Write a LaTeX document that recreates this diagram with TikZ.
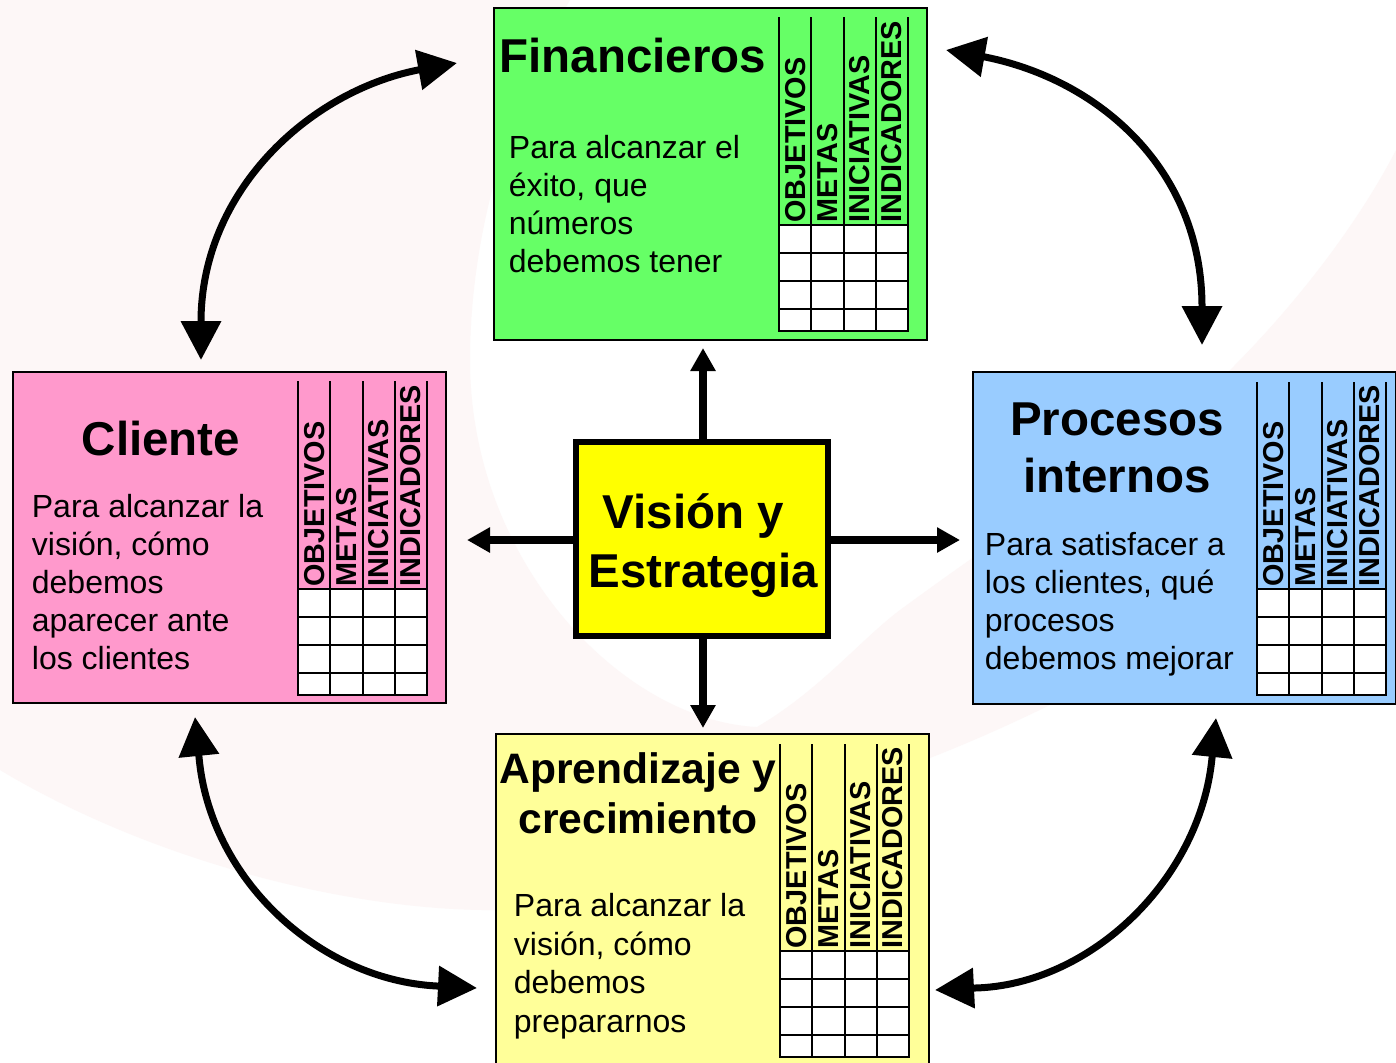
\documentclass[tikz,border=0pt]{standalone}
\usepackage{fontspec}
\setmainfont{Liberation Sans}
\usetikzlibrary{arrows.meta}
\definecolor{wm}{RGB}{253,247,247}
\definecolor{fingreen}{RGB}{102,255,102}
\definecolor{clipink}{RGB}{255,153,204}
\definecolor{problue}{RGB}{153,204,255}
\definecolor{aprylw}{RGB}{255,255,153}
\definecolor{visylw}{RGB}{255,255,0}
\tikzset{
  box/.style={draw=black, line width=1pt, anchor=north west, inner sep=0pt},
  ttl/.style={font=\fontsize{23.75}{28}\selectfont\bfseries, inner sep=0pt, anchor=base},
  ttlsmall/.style={font=\fontsize{21.3}{25}\selectfont\bfseries, inner sep=0pt, anchor=base},
  bodytxt/.style={font=\fontsize{16}{19}\selectfont, inner sep=0pt, anchor=base west},
  hdr/.style={font=\fontsize{14.4}{17}\selectfont\bfseries, rotate=90, anchor=west, inner sep=0.6pt},
  gridln/.style={line width=1pt, line cap=rect},
  sarr/.style={line width=3.6pt, -{Triangle[length=11.5pt,width=12pt]}},
  carr/.style={line width=3.5pt, {Triangle[length=19.5pt,width=19.5pt]}-{Triangle[length=19.5pt,width=19.5pt]}},
}
\newcommand\bsctab[4]{% x0, ytop, yheaderbottom, prefix
  \fill[white] (#1,#3) rectangle ({#1+129},{#3+106});
  \foreach \i in {0,1,2,3,4} \draw[gridln] ({#1+32.25*\i},#2) -- ({#1+32.25*\i},{#3+106});
  \foreach \j in {0,28,56,84,106} \draw[gridln] (#1,{#3+\j}) -- ({#1+129},{#3+\j});
  \node[hdr] (#4obj) at ({#1+16.1},{#3-1}) {OBJETIVOS};
  \node[hdr] (#4met) at ({#1+48.4},{#3-1}) {METAS};
  \node[hdr] (#4ini) at ({#1+80.6},{#3-1}) {INICIATIVAS};
  \node[hdr] (#4ind) at ({#1+112.9},{#3-1}) {INDICADORES};
}
\begin{document}
\begin{tikzpicture}[x=0.5pt,y=-0.5pt]
\useasboundingbox (0,0) rectangle (1396,1062);
\fill[white] (0,0) rectangle (1396,1062);
% faint background watermark
\fill[wm] (0,0) -- (570,0) .. controls (500,120) and (470,250) .. (470,360)
  .. controls (470,560) and (620,720) .. (757,727)
  .. controls (820,690) and (860,640) .. (900,610)
  .. controls (1050,500) and (1180,420) .. (1230,370)
  .. controls (1300,300) and (1360,220) .. (1396,150)
  -- (1396,430) .. controls (1250,560) and (1100,680) .. (1060,700)
  .. controls (1000,730) and (930,760) .. (877,777)
  .. controls (800,820) and (650,905) .. (500,910)
  .. controls (350,912) and (150,860) .. (0,770) -- cycle;

% boxes
\node[box, fill=fingreen, minimum width=216.5pt, minimum height=166pt] (fin) at (493,7) {};
\node[box, fill=clipink, minimum width=216.5pt, minimum height=165.5pt] (cli) at (12,371) {};
\node[box, fill=problue, minimum width=211.5pt, minimum height=166pt] (pro) at (972,371) {};
\node[box, fill=aprylw, minimum width=216.5pt, minimum height=175pt] (apr) at (495,733) {};
\node[draw=black, line width=3pt, fill=visylw, minimum width=126pt, minimum height=97pt, inner sep=0pt] (vis) at (702,539) {};

% tables
\bsctab{779}{18}{225}{f}
\bsctab{298}{382}{589}{c}
\bsctab{1257}{383}{589}{p}
\bsctab{780}{745}{951}{a}

% Financieros
\node[ttl, anchor=base west] (finT) at (499,72) {Financieros};
\node[bodytxt] (finA) at (508.5,158) {Para alcanzar el};
\node[bodytxt] (finB) at (508.5,196) {éxito, que};
\node[bodytxt] (finC) at (508.5,234) {números};
\node[bodytxt] (finD) at (508.5,272) {debemos tener};

% Cliente
\node[ttl] (cliT) at (161,455) {Cliente};
\node[bodytxt] (cliA) at (31.5,517) {Para alcanzar la};
\node[bodytxt] (cliB) at (31.5,555) {visión, cómo};
\node[bodytxt] (cliC) at (31.5,593) {debemos};
\node[bodytxt] (cliD) at (31.5,631) {aparecer ante};
\node[bodytxt] (cliE) at (31.5,669) {los clientes};

% Procesos internos
\node[ttl] (proT) at (1117,435) {Procesos};
\node[ttl] (proU) at (1117,492) {internos};
\node[bodytxt] (proA) at (984.5,555) {Para satisfacer a};
\node[bodytxt] (proB) at (984.5,593) {los clientes, qué};
\node[bodytxt] (proC) at (984.5,631) {procesos};
\node[bodytxt] (proD) at (984.5,669) {debemos mejorar};

% Aprendizaje
\node[ttlsmall] (aprT) at (638,783) {Aprendizaje y};
\node[ttlsmall] (aprU) at (638,833) {crecimiento};
\node[bodytxt] (aprA) at (513.5,916) {Para alcanzar la};
\node[bodytxt] (aprB) at (513.5,955) {visión, cómo};
\node[bodytxt] (aprC) at (513.5,993) {debemos};
\node[bodytxt] (aprD) at (513.5,1032) {prepararnos};

% Vision
\node[ttl] (visT) at (693.5,528) {Visión y};
\node[ttl] (visU) at (703.5,587) {Estrategia};

% straight arrows from center
\coordinate (tipN) at (703,348);
\coordinate (tipS) at (703,728);
\coordinate (tipW) at (467,540);
\coordinate (tipE) at (960,540);
\draw[sarr] (vis.north -| tipN) -- (tipN);
\draw[sarr] (vis.south -| tipS) -- (tipS);
\draw[sarr] (vis.west |- tipW) -- (tipW);
\draw[sarr] (vis.east |- tipE) -- (tipE);

% curved double arrows
\coordinate (c1a) at (201,360);
\coordinate (c1b) at (457,63);
\coordinate (c2a) at (946,50);
\coordinate (c2b) at (1202,345);
\coordinate (c3a) at (195,717);
\coordinate (c3b) at (477,988);
\coordinate (c4a) at (1216,718);
\coordinate (c4b) at (935,990);
\draw[carr] (c1a) -- (201,322) .. controls (201,192) and (308,92) .. (418,70) -- (c1b);
\draw[carr] (c2a) -- (985,57) .. controls (1100,80) and (1202,170) .. (1202,307) -- (c2b);
\draw[carr] (c3a) -- (199,757) .. controls (210,880) and (320,980) .. (437,986) -- (c3b);
\draw[carr] (c4a) -- (1212,758) .. controls (1200,880) and (1090,985) .. (975,988) -- (c4b);
\end{tikzpicture}
\end{document}
